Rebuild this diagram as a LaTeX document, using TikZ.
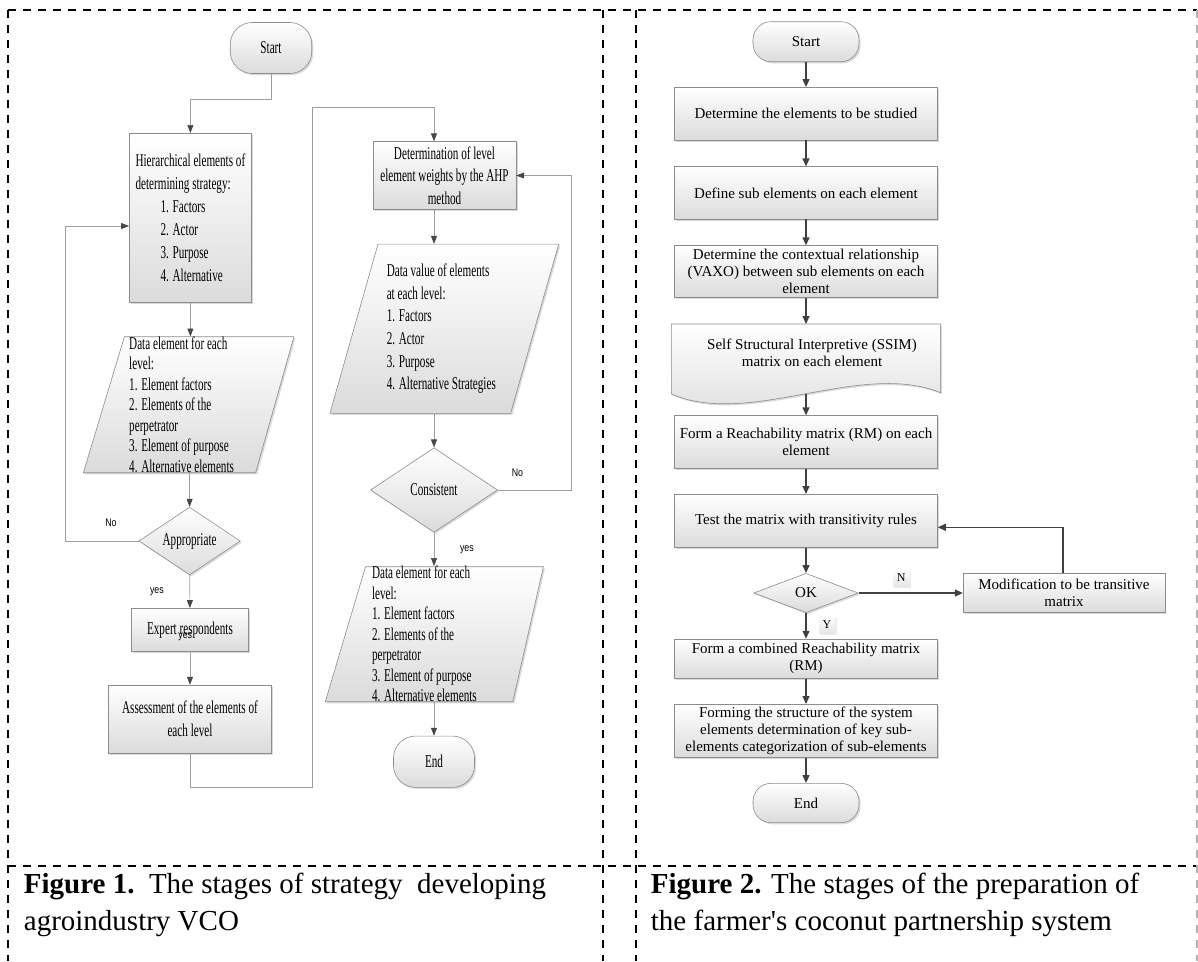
\documentclass[tikz,border=0pt]{standalone}
\usepackage{fontspec}
\setmainfont{Liberation Serif}
\newfontfamily\narrowserif[FakeStretch=0.62]{Liberation Serif}
\newfontfamily\narrowsans[FakeStretch=0.8]{Liberation Sans}
\usetikzlibrary{arrows.meta, shapes, shadows, positioning, calc}

\tikzset{
  procbox/.style={draw=black!45, line width=0.6pt, top color=white, bottom color=black!14,
    drop shadow={opacity=0.3, shadow xshift=1.6pt, shadow yshift=-1.6pt}},
  lfont/.style={font=\narrowserif\fontsize{18}{23}\selectfont},
  pfont/.style={font=\narrowserif\fontsize{18}{20.5}\selectfont},
  rfont/.style={font=\fontsize{15}{17.3}\selectfont},
  stepL/.style={rectangle, procbox, lfont, inner sep=0pt, align=center},
  stepR/.style={rectangle, procbox, rfont, inner sep=0pt, align=center, minimum width=263pt},
  term/.style={rectangle, procbox, inner sep=0pt},
  iotext/.style={rectangle, pfont, inner sep=0pt, align=left},
  decide/.style={diamond, procbox, inner sep=0pt, aspect=1.5},
  flowL/.style={draw=black!38, line width=0.7pt, -{Triangle[length=8pt,width=6pt,color=black!72]}},
  flowR/.style={draw=black!75, line width=1.3pt, -{Triangle[length=8pt,width=7pt]}},
  lbl/.style={font=\narrowsans\fontsize{11}{11}\selectfont, inner sep=0pt},
  flag/.style={font=\fontsize{12}{12}\selectfont, inner sep=0pt, minimum width=16pt, minimum height=17pt,
    top color=white, bottom color=black!10,
    drop shadow={opacity=0.15, shadow xshift=1.5pt, shadow yshift=-1.5pt}},
  cellline/.style={line width=1.3pt, dash pattern=on 8pt off 7pt},
  figcap/.style={font=\fontsize{29}{37}\selectfont, inner sep=0pt, anchor=base west}
}

\begin{document}
\begin{tikzpicture}[x=1pt, y=-1pt, on grid]
\useasboundingbox (0,0) rectangle (1198,961);

% cells
\draw[cellline] (8,10) -- (1197,10);
\draw[cellline] (8,866) -- (1197,866);
\draw[cellline] (8,10) -- (8,961);
\draw[cellline] (603,10) -- (603,961);
\draw[cellline] (636,10) -- (636,961);
\draw[cellline, draw=black!30] (1197,10) -- (1197,961);

% Figure 1
\node[term, lfont, minimum width=81.5pt, minimum height=51pt, rounded corners=22pt] (start1) at (271,48) {Start};
\node[stepL, align=left, minimum width=122pt, minimum height=169.4pt] (hier) at (190.4,218)
  {Hierarchical elements of\\determining strategy:\\\hspace*{25pt}1. Factors\\\hspace*{25pt}2. Actor\\\hspace*{25pt}3. Purpose\\\hspace*{25pt}4. Alternative};

\coordinate (d1c) at (188.6,404.7);
\path[procbox] ($(d1c)+(-105.2,68)$) -- ($(d1c)+(67,68)$) -- ($(d1c)+(105.3,-68)$) -- ($(d1c)+(-64.2,-68)$) -- cycle;
\node[iotext, minimum height=136pt, xshift=-7pt] (data1) at (d1c)
  {Data element for each\\level:\\1. Element factors\\2. Elements of the\\perpetrator\\3. Element of purpose\\4. Alternative elements};

\node[decide, lfont, minimum width=101.4pt, minimum height=67.7pt] (appr) at (189.6,541) {Appropriate};
\node[stepL, minimum width=117.5pt, minimum height=42.7pt] (expert) at (190,629.7) {Expert respondents};
\node[stepL, minimum width=163.4pt, minimum height=68.3pt] (assess) at (190,719.2) {Assessment of the elements of\\each level};

\node[stepL, font=\narrowserif\fontsize{18}{22.5}\selectfont, minimum width=142.8pt, minimum height=67.6pt] (determ) at (444.5,175.5)
  {Determination of level\\element weights by the AHP\\method};

\coordinate (dvc) at (444.3,328.7);
\path[procbox] ($(dvc)+(-114.4,84.65)$) -- ($(dvc)+(66.3,84.65)$) -- ($(dvc)+(114.4,-84.65)$) -- ($(dvc)+(-66.3,-84.65)$) -- cycle;
\node[iotext, font=\narrowserif\fontsize{18}{22.6}\selectfont, minimum height=169.3pt, xshift=-3pt] (dataval) at (dvc)
  {Data value of elements\\at each level:\\1. Factors\\2. Actor\\3. Purpose\\4. Alternative Strategies};

\node[decide, lfont, minimum width=127pt, minimum height=84.6pt] (cons) at (434,490) {Consistent};

\coordinate (d2c) at (434.4,634.2);
\path[procbox] ($(d2c)+(-109.1,67.5)$) -- ($(d2c)+(78.4,67.5)$) -- ($(d2c)+(109,-67.5)$) -- ($(d2c)+(-68.9,-67.5)$) -- cycle;
\node[iotext, minimum height=135pt, xshift=-10pt] (data2) at (d2c)
  {Data element for each\\level:\\1. Element factors\\2. Elements of the\\perpetrator\\3. Element of purpose\\4. Alternative elements};

\node[term, lfont, minimum width=81pt, minimum height=51.3pt, rounded corners=22pt] (end1) at (434,761.7) {End};

\draw[flowL] (start1.south) -- (start1.south |- 0,99) -| (hier.north);
\draw[flowL] (hier.south) -- (hier.south |- data1.north);
\draw[flowL] (data1.south -| appr.north) -- (appr.north);
\draw[flowL] (appr) -- (expert);
\draw[flowL] (expert) -- (assess);
\draw[flowL] (appr.west) -- (appr.west -| 65.4,0) |- ($(hier.west)+(0,8)$);
\draw[flowL] (assess.south) |- (311.9,787.3) |- (cons.north |- 0,107.3) -- (determ.north -| cons.north);
\draw[flowL] (determ.south -| cons.north) -- (dataval.north -| cons.north);
\draw[flowL] (dataval.south -| cons.north) -- (cons.north);
\draw[flowL] (cons.south) -- (data2.north -| cons.south);
\draw[flowL] (data2.south -| end1.north) -- (end1.north);
\draw[flowL] (cons.east) -- (cons.east -| 571.4,0) |- (determ.east);

\node[lbl] (no1) at (111,523) {No};
\node[lbl] (yes1) at (156.9,592) {yes};
\node[lbl] (yes0) at (185.2,636.7) {yes};
\node[lbl] (no2) at (517.4,472.3) {No};
\node[lbl] (yes2) at (466.9,549.3) {yes};

% Figure 2
\node[term, rfont, minimum width=106pt, minimum height=40pt, rounded corners=18pt] (start2) at (806,41.7) {Start};
\node[stepR, minimum height=52.7pt, below=72pt of start2] (el1) {Determine the elements to be studied};
\node[stepR, minimum height=52.3pt, below=79.15pt of el1] (el2) {Define sub elements on each element};
\node[stepR, minimum height=51.7pt, below=78.65pt of el2] (el3) {Determine the contextual relationship\\(VAXO) between sub elements on each\\element};
\coordinate[below=87.5pt of el3] (ssim);
\begin{scope}[shift={(ssim)}]
  \path[procbox] (-134.6,-35) -- (134.6,-35) -- (134.6,33.7)
    .. controls (54,1) and (-56,69) .. (-134.7,35) -- cycle;
\end{scope}
\node[rfont, align=center, inner sep=0pt] (ssimtxt) at ([xshift=6pt, yshift=6pt]ssim)
  {Self Structural Interpretive (SSIM)\\matrix on each element};
\node[stepR, minimum height=52.7pt, below=170.5pt of el3] (rm) {Form a Reachability matrix (RM) on each\\element};
\node[stepR, minimum height=53pt, below=78.8pt of rm] (test) {Test the matrix with transitivity rules};
\node[decide, rfont, minimum width=104.5pt, minimum height=39.3pt, aspect=2.6, below=72.2pt of test] (ok) {OK};
\node[stepR, minimum width=201.7pt, minimum height=39.3pt, right=258pt of ok] (modif) {Modification to be transitive\\matrix};
\node[stepR, minimum height=39.3pt, below=65.7pt of ok] (crm) {Form a combined Reachability matrix\\(RM)};
\node[stepR, minimum height=53pt, below=72.1pt of crm] (struct) {Forming the structure of the system\\elements determination of key sub-\\elements categorization of sub-elements};
\node[term, rfont, minimum width=106pt, minimum height=39.3pt, rounded corners=18pt, below=72.2pt of struct] (end2) {End};

\draw[flowR] (start2) -- (el1);
\draw[flowR] (el1) -- (el2);
\draw[flowR] (el2) -- (el3);
\draw[flowR] (el3) -- ($(ssim)+(0,-35)$);
\draw[flowR] ($(ssim)+(0,35)$) -- (rm);
\draw[flowR] (rm) -- (test);
\draw[flowR] (test) -- (ok);
\draw[flowR] (ok) -- (modif);
\draw[flowR] ([xshift=-1pt]modif.north) |- ($(test.east)+(0,6.5)$);
\draw[flowR] (ok) -- (crm);
\draw[flowR] (crm) -- (struct);
\draw[flowR] (struct) -- (end2);

\node[flag] (nlab) at (901.3,578) {N};
\node[flag] (ylab) at (827,624.5) {Y};

% captions
\node[figcap] (cap1) at (23.7,893) {\textbf{Figure 1.}\ \ The stages of strategy\ \ developing};
\node[figcap] (cap1b) at (23.7,930) {agroindustry VCO};
\node[figcap] (cap2) at (650.7,893) {\textbf{Figure 2.} The stages of the preparation of};
\node[figcap] (cap2b) at (650.7,930) {the farmer\textquotesingle s coconut partnership system};
\end{tikzpicture}
\end{document}
